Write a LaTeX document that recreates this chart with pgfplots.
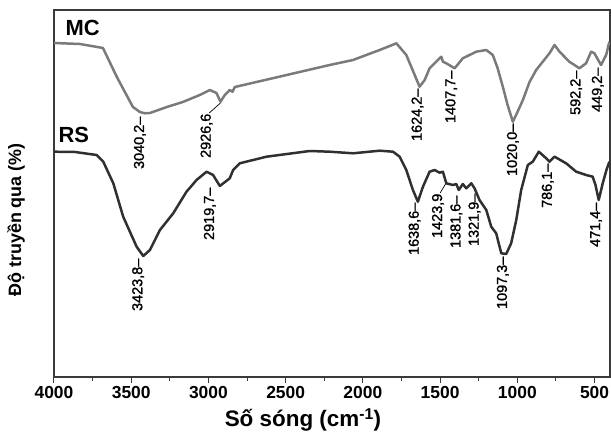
\documentclass[border=0pt]{standalone}
\usepackage{pgfplots}
\pgfplotsset{compat=1.18}
\usepackage{fontspec}
\setmainfont{Liberation Sans}
\newfontfamily\pkfont{Liberation Sans}[Ligatures=TeX, FakeBold=1.2]
\definecolor{mcgray}{HTML}{7A7A7A}
\definecolor{rsgray}{HTML}{303030}
\definecolor{framec}{HTML}{3A3A3A}
\begin{document}
\begin{tikzpicture}
\useasboundingbox (-54bp,-60bp) rectangle (557bp,377bp);
\begin{axis}[
  at={(0,0)}, anchor=south west,
  scale only axis, width=556bp, height=367bp,
  x dir=reverse, xmin=400, xmax=4000,
  ymin=-377, ymax=-10,
  xtick={4000,3500,3000,2500,2000,1500,1000,500},
  minor x tick num=1,
  xtick pos=bottom, ytick=\empty,
  tick align=outside,
  major tick length=6bp, minor tick length=3.5bp,
  every tick/.style={framec, line width=1pt},
  axis line style={framec, line width=1.1pt},
  /pgf/number format/assume math mode=true,
  /pgf/number format/1000 sep={},
  xticklabel style={font=\bfseries\fontsize{17.5}{18}\selectfont, yshift=0bp},
  clip=true,
]
\addplot[mcgray, line width=2.5pt, line join=round] coordinates {
(4000,-43)(3832,-44)(3683,-48)(3593,-77)(3489,-107)(3444,-112)(3411,-113.3)(3379,-113)
(3269,-107)(3166,-102)(3056,-95)(2991,-90)(2948,-93)(2922,-101.7)(2894,-95)(2862,-90)
(2844,-91.7)(2829,-87)(2538,-76.6)(2215,-65)(2064,-60)(1891,-50)(1783,-43.3)(1719,-55)
(1678,-70)(1633,-86.7)(1600,-80)(1568,-68.3)(1503,-58.3)(1492,-56.7)(1482,-61.7)(1460,-63.3)
(1406,-68.3)(1353,-58.3)(1266,-51.7)(1201,-50)(1159,-55)(1128,-68)(1094,-86.7)(1063,-105)
(1029,-121.7)(999,-112)(964,-100)(921,-82)(878,-70)(792,-53.3)(759,-45)(727,-51.7)
(663,-61.7)(598,-68.3)(555,-63.3)(522,-51.7)(501,-53.3)(458,-65)(425,-55)(404,-41.7)
};
\addplot[rsgray, line width=2.5pt, line join=round] coordinates {
(4000,-151.7)(3864,-152)(3724,-155)(3681,-161.7)(3616,-183.3)(3552,-216.7)(3465,-246.7)
(3422,-256)(3379,-250)(3314,-230)(3228,-213.3)(3142,-191.7)(3077,-180)(3012,-171.7)
(2970,-175)(2926,-186)(2862,-178.3)(2840,-170)(2797,-163.3)(2624,-156.7)(2344,-151)
(2215,-151.7)(2064,-153.3)(1891,-150.7)(1805,-151.7)(1762,-156.7)(1719,-170)(1676,-190)
(1644,-201.7)(1611,-186.7)(1568,-171.7)(1536,-170)(1503,-172.7)(1482,-171.7)(1460,-183.3)
(1417,-185)(1395,-184)(1379,-190)(1353,-184)(1331,-188.3)(1298,-183.3)(1277,-188.3)
(1245,-200)(1201,-210)(1169,-226.7)(1137,-233.3)(1104,-253.3)(1072,-254)(1040,-243.3)
(1007,-220)(975,-190)(932,-165)(900,-161.7)(861,-151.7)(813,-158.3)(792,-161.7)(759,-156.7)
(684,-163.3)(619,-171.7)(555,-175)(512,-176.7)(494,-185)(473,-200)(447,-183.3)(423,-170)(404,-161.7)
};
\tikzset{pk/.style={rotate=90, anchor=east, inner sep=0.5bp, font=\pkfont\fontsize{14.5}{15}\selectfont}}
% MC labels
\node[pk] at (axis cs:3444,-116) {3040,2--};
\node[pk] at (axis cs:3012,-113) {2926,6};
\draw[black, line width=0.7pt] (axis cs:2922,-103) -- (axis cs:2995,-113);
\node[pk] at (axis cs:1646,-88) {1624,2--};
\node[pk] at (axis cs:1428,-70) {1407,7--};
\node[pk] at (axis cs:1029,-123) {1020,0--};
\node[pk] at (axis cs:619,-70) {592,2--};
\node[pk] at (axis cs:479,-67) {449,2--};
% RS labels
\node[pk] at (axis cs:3455,-258) {3423,8--};
\node[pk] at (axis cs:2991,-187) {2919,7--};
\node[pk] at (axis cs:1665,-202) {1638,6--};
\node[pk] at (axis cs:1514,-193) {1423,9};
\draw[black, line width=0.7pt] (axis cs:1465,-184) -- (axis cs:1500,-193);
\node[pk] at (axis cs:1395,-195) {1381,6--};
\node[pk] at (axis cs:1277,-193) {1321,9--};
\node[pk] at (axis cs:1094,-256) {1097,3--};
\node[pk] at (axis cs:803,-163) {786,1--};
\node[pk] at (axis cs:490,-202) {471,4--};
\end{axis}
\node[anchor=west, font=\bfseries\fontsize{22}{22}\selectfont] at (8bp,349bp) {MC};
\node[anchor=west, font=\bfseries\fontsize{22}{22}\selectfont] at (1bp,242bp) {RS};
\node[rotate=90, font=\bfseries\fontsize{18}{18}\selectfont] at (-38bp,157bp) {Độ truyền qua (\%)};
\node[font=\bfseries\fontsize{22.5}{23}\selectfont] at (249bp,-43bp) {Số sóng (cm\textsuperscript{-1})};
\end{tikzpicture}
\end{document}
